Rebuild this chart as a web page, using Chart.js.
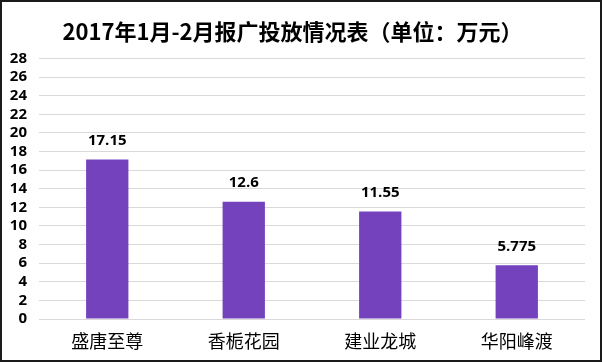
<!DOCTYPE html>
<html>
<head>
<meta charset="utf-8">
<script src="https://cdn.jsdelivr.net/npm/chart.js@4/dist/chart.umd.min.js"></script>
<style>
html,body{margin:0;padding:0;background:#fff;}
#wrap{position:relative;width:602px;height:362px;box-sizing:border-box;border:2px solid #1a1a1a;background:#fff;}
#wrap canvas{position:absolute;left:-2px;top:-2px;}
</style>
</head>
<body>
<div id="wrap"><canvas id="c" width="602" height="362"></canvas></div>
<script>
const titleText = '2017年1月-2月报广投放情况表（单位：万元）';
const categories = ['盛唐至尊', '香栀花园', '建业龙城', '华阳峰渡'];
const values = [17.15, 12.6, 11.55, 5.775];
const valueLabels = ['17.15', '12.6', '11.55', '5.775'];
const yTicks = [0, 2, 4, 6, 8, 10, 12, 14, 16, 18, 20, 22, 24, 26, 28];

const numFont = "'Open Sans', 'Noto Sans CJK SC', sans-serif";
const cjkFont = "'Noto Sans CJK SC', sans-serif";

const dataLabelPlugin = {
  id: 'dataLabels',
  afterDatasetsDraw(chart) {
    const ctx = chart.ctx;
    const meta = chart.getDatasetMeta(0);
    ctx.save();
    ctx.font = '700 15px ' + numFont;
    ctx.fillStyle = '#000';
    ctx.textAlign = 'center';
    ctx.textBaseline = 'middle';
    meta.data.forEach((bar, i) => {
      ctx.fillText(valueLabels[i], bar.x, bar.y - 19);
    });
    ctx.restore();
  }
};

new Chart(document.getElementById('c'), {
  type: 'bar',
  data: {
    labels: categories,
    datasets: [{
      data: values,
      backgroundColor: '#7542be',
      borderWidth: 0,
      barPercentage: 0.62,
      categoryPercentage: 0.5
    }]
  },
  options: {
    responsive: false,
    animation: false,
    devicePixelRatio: 1,
    layout: { padding: { left: 0, right: 17, top: 0, bottom: 0 } },
    plugins: {
      legend: { display: false },
      tooltip: { enabled: false },
      title: {
        display: true,
        text: titleText,
        color: '#000',
        font: { family: cjkFont, size: 22, weight: 'bold', lineHeight: 1.2 },
        padding: { top: 18, bottom: 14 }
      }
    },
    scales: {
      x: {
        grid: { display: false, drawTicks: false },
        border: { display: false },
        ticks: {
          color: '#000',
          padding: 11,
          font: { family: cjkFont, size: 18, weight: 'normal' }
        },
        afterFit(scale) { scale.height = 43; }
      },
      y: {
        min: 0,
        max: 28,
        afterBuildTicks(scale) { scale.ticks = yTicks.map(v => ({ value: v })); },
        grid: { color: '#d9d9d9', lineWidth: 1, drawTicks: false },
        border: { display: false },
        ticks: {
          color: '#000',
          padding: 12,
          autoSkip: false,
          font: { family: numFont, size: 15, weight: '700' }
        },
        afterFit(scale) { scale.width = 39; }
      }
    }
  },
  plugins: [dataLabelPlugin]
});
</script>
</body>
</html>
